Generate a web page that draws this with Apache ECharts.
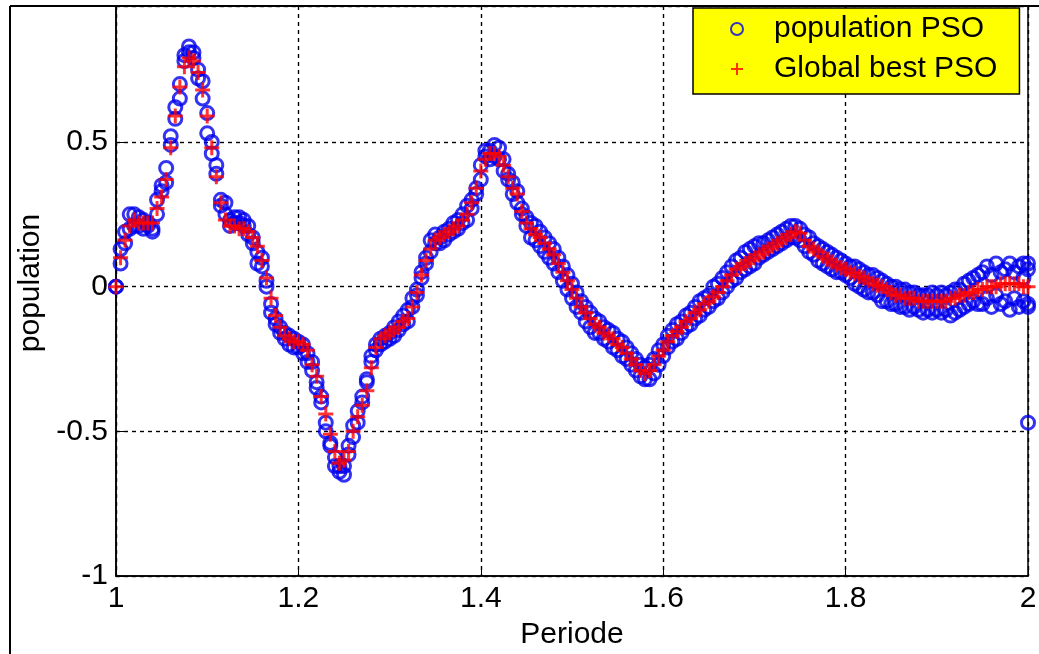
<!DOCTYPE html>
<html>
<head>
<meta charset="utf-8">
<script src="https://cdn.jsdelivr.net/npm/echarts@6/dist/echarts.min.js"></script>
<style>
  html, body { margin: 0; padding: 0; background: #fff; }
  #chart { width: 1039px; height: 654px; }
</style>
</head>
<body>
<div id="chart"></div>
<script>
// sampling of the Periode axis (one sample every 0.005)
const periodeStart = 1;
const periodeStep = 0.005;

// global best PSO estimate, one value per sample
const globalBest = [
  0.00, 0.10, 0.16, 0.21, 0.23, 0.22, 0.22, 0.22, 0.22, 0.27,
  0.31, 0.37, 0.48, 0.59, 0.69, 0.76, 0.79, 0.78, 0.74, 0.68,
  0.59, 0.48, 0.38, 0.29, 0.23, 0.21, 0.21, 0.20, 0.20, 0.19,
  0.17, 0.14, 0.09, 0.03, -0.04, -0.10, -0.14, -0.17, -0.18, -0.19,
  -0.19, -0.20, -0.22, -0.27, -0.31, -0.38, -0.44, -0.51, -0.57, -0.61,
  -0.60, -0.57, -0.50, -0.45, -0.41, -0.36, -0.28, -0.21, -0.18, -0.17,
  -0.16, -0.15, -0.14, -0.12, -0.11, -0.07, -0.02, 0.04, 0.09, 0.13,
  0.16, 0.17, 0.18, 0.19, 0.20, 0.21, 0.23, 0.25, 0.29, 0.34,
  0.40, 0.44, 0.46, 0.46, 0.45, 0.42, 0.38, 0.34, 0.32, 0.26,
  0.22, 0.20, 0.18, 0.17, 0.15, 0.13, 0.11, 0.08, 0.05, 0.02,
  -0.01, -0.04, -0.07, -0.09, -0.11, -0.13, -0.14, -0.16, -0.17, -0.18,
  -0.20, -0.21, -0.23, -0.25, -0.27, -0.29, -0.30, -0.29, -0.27, -0.24,
  -0.22, -0.19, -0.17, -0.155, -0.14, -0.12, -0.11, -0.09, -0.08, -0.06,
  -0.05, -0.035, -0.02, 0.00, 0.02, 0.04, 0.06, 0.07, 0.08, 0.09,
  0.10, 0.11, 0.12, 0.13, 0.14, 0.15, 0.16, 0.17, 0.18, 0.19,
  0.185, 0.16, 0.14, 0.13, 0.12, 0.105, 0.095, 0.085, 0.075, 0.065,
  0.06, 0.05, 0.045, 0.035, 0.03, 0.02, 0.01, 0.005, 0.00, -0.01,
  -0.02, -0.03, -0.03, -0.04, -0.04, -0.04, -0.05, -0.05, -0.05, -0.05,
  -0.05, -0.05, -0.05, -0.04, -0.04, -0.03, -0.03, -0.02, -0.02, -0.01,
  -0.01, 0.00, 0.00, 0.00, 0.01, 0.01, 0.01, 0.01, 0.01, 0.00,
  0.00
];

// population particles (two per sample, upper / lower side of the swarm)
const populationUpper = [
  0.00, 0.13, 0.19, 0.25, 0.25, 0.24, 0.23, 0.22, 0.20, 0.30,
  0.35, 0.41, 0.52, 0.62, 0.65, 0.80, 0.83, 0.81, 0.72, 0.71,
  0.53, 0.46, 0.39, 0.30, 0.25, 0.23, 0.24, 0.24, 0.23, 0.21,
  0.17, 0.12, 0.07, 0.00, -0.06, -0.11, -0.14, -0.16, -0.17, -0.18,
  -0.19, -0.20, -0.23, -0.26, -0.33, -0.40, -0.47, -0.54, -0.59, -0.64,
  -0.65, -0.58, -0.52, -0.47, -0.40, -0.33, -0.24, -0.20, -0.18, -0.17,
  -0.16, -0.14, -0.12, -0.10, -0.08, -0.04, -0.01, 0.05, 0.10, 0.16,
  0.18, 0.17, 0.19, 0.20, 0.22, 0.23, 0.25, 0.28, 0.30, 0.32,
  0.42, 0.47, 0.47, 0.49, 0.48, 0.44, 0.39, 0.36, 0.33, 0.27,
  0.24, 0.22, 0.21, 0.19, 0.17, 0.15, 0.13, 0.10, 0.07, 0.04,
  0.01, -0.02, -0.05, -0.07, -0.09, -0.11, -0.12, -0.14, -0.15, -0.16,
  -0.18, -0.19, -0.21, -0.23, -0.25, -0.27, -0.28, -0.27, -0.25, -0.22,
  -0.20, -0.17, -0.15, -0.13, -0.12, -0.10, -0.09, -0.07, -0.05, -0.04,
  -0.03, 0.00, 0.01, 0.03, 0.05, 0.07, 0.09, 0.10, 0.12, 0.13,
  0.14, 0.15, 0.15, 0.16, 0.17, 0.18, 0.19, 0.20, 0.21, 0.21,
  0.20, 0.18, 0.17, 0.15, 0.14, 0.13, 0.12, 0.11, 0.10, 0.09,
  0.08, 0.07, 0.07, 0.06, 0.05, 0.04, 0.04, 0.03, 0.02, 0.01,
  0.00, 0.00, -0.01, -0.01, -0.02, -0.02, -0.03, -0.03, -0.03, -0.02,
  -0.03, -0.02, -0.03, -0.02, -0.01, -0.01, 0.01, 0.02, 0.03, 0.04,
  0.05, 0.07, 0.04, 0.08, 0.05, 0.06, 0.08, 0.05, 0.07, 0.08,
  0.06
];

const populationLower = [
  0.00, 0.08, 0.15, 0.20, 0.21, 0.21, 0.20, 0.21, 0.19, 0.25,
  0.33, 0.36, 0.49, 0.58, 0.70, 0.78, 0.81, 0.79, 0.75, 0.65,
  0.60, 0.50, 0.42, 0.28, 0.29, 0.21, 0.22, 0.22, 0.21, 0.18,
  0.15, 0.08, 0.10, 0.02, -0.09, -0.13, -0.16, -0.18, -0.20, -0.21,
  -0.21, -0.23, -0.26, -0.29, -0.35, -0.38, -0.50, -0.55, -0.62, -0.62,
  -0.62, -0.55, -0.48, -0.43, -0.38, -0.32, -0.26, -0.22, -0.20, -0.19,
  -0.18, -0.17, -0.15, -0.13, -0.12, -0.07, -0.03, 0.03, 0.08, 0.12,
  0.15, 0.15, 0.16, 0.18, 0.19, 0.20, 0.22, 0.23, 0.27, 0.34,
  0.37, 0.45, 0.44, 0.45, 0.44, 0.40, 0.37, 0.32, 0.29, 0.25,
  0.21, 0.17, 0.16, 0.14, 0.12, 0.10, 0.08, 0.05, 0.02, -0.01,
  -0.04, -0.07, -0.09, -0.12, -0.14, -0.16, -0.16, -0.18, -0.19, -0.21,
  -0.22, -0.24, -0.25, -0.27, -0.29, -0.31, -0.32, -0.32, -0.30, -0.27,
  -0.24, -0.21, -0.19, -0.18, -0.16, -0.14, -0.13, -0.11, -0.10, -0.08,
  -0.07, -0.05, -0.04, -0.02, 0.00, 0.02, 0.03, 0.05, 0.06, 0.07,
  0.08, 0.10, 0.11, 0.12, 0.13, 0.14, 0.15, 0.16, 0.17, 0.17,
  0.16, 0.14, 0.12, 0.11, 0.09, 0.08, 0.07, 0.06, 0.05, 0.05,
  0.04, 0.03, 0.01, 0.00, -0.01, -0.02, -0.02, -0.03, -0.05, -0.05,
  -0.06, -0.06, -0.07, -0.07, -0.08, -0.07, -0.08, -0.09, -0.08, -0.09,
  -0.08, -0.09, -0.08, -0.10, -0.09, -0.08, -0.07, -0.06, -0.05, -0.06,
  -0.06, -0.04, -0.07, -0.03, -0.06, -0.05, -0.08, -0.04, -0.07, -0.05,
  -0.06
];

// stray particles at the last period
const populationStray = [[2.0, -0.47], [2.0, 0.08], [2.0, -0.07], [1.995, 0.03]];

const fontFamily = '"Liberation Sans", Arial, sans-serif';

function toPairs(values) {
  return values.map(function (v, i) {
    return [+(periodeStart + i * periodeStep).toFixed(3), v];
  });
}

const populationData = toPairs(populationUpper).concat(toPairs(populationLower), populationStray);
const bestData = toPairs(globalBest);

const plusSymbol = 'path://M5,0L5,10M0,5L10,5';

var myChart = echarts.init(document.getElementById('chart'));
var option = {
  animation: false,
  backgroundColor: '#fff',
  textStyle: { fontFamily: fontFamily },
  grid: {
    left: 116, right: 11, top: 6, bottom: 78,
    show: true, borderColor: '#000', borderWidth: 1.5,
    outerBoundsMode: 'none'
  },
  legend: {
    orient: 'vertical',
    left: 693, top: 8,
    backgroundColor: '#ffff00',
    borderColor: '#000', borderWidth: 1.5, borderRadius: 0,
    padding: [6, 22, 10, 37],
    itemWidth: 12, itemHeight: 12, itemGap: 10,
    textStyle: { fontSize: 30, color: '#000', fontFamily: fontFamily, padding: [0, 0, 0, 26] },
    data: ['population PSO', 'Global best PSO']
  },
  xAxis: {
    type: 'value', min: 1, max: 2, interval: 0.2,
    name: 'Periode', nameLocation: 'middle', nameGap: 44,
    nameTextStyle: { fontSize: 30, color: '#000', fontFamily: fontFamily },
    axisLine: { show: true, onZero: false, lineStyle: { color: '#000', width: 1.5 } },
    axisTick: { show: true, inside: true, length: 8, lineStyle: { color: '#000' } },
    axisLabel: {
      fontSize: 30, color: '#000', margin: 8,
      formatter: function (v) { return String(+v.toFixed(1)); }
    },
    splitLine: { show: true, lineStyle: { color: '#000', type: [4, 4], width: 1.4 } }
  },
  yAxis: {
    type: 'value', min: -1, max: 0.97, interval: 0.5,
    name: 'population', nameLocation: 'middle', nameGap: 70,
    nameTextStyle: { fontSize: 30, color: '#000', fontFamily: fontFamily, padding: [0, 0, 0, 16] },
    axisLine: { show: true, onZero: false, lineStyle: { color: '#000', width: 1.5 } },
    axisTick: { show: true, inside: true, length: 8, lineStyle: { color: '#000' } },
    axisLabel: {
      fontSize: 30, color: '#000', margin: 8, showMaxLabel: false,
      formatter: function (v) { return String(+v.toFixed(1)); }
    },
    splitLine: { show: true, lineStyle: { color: '#000', type: [4, 4], width: 1.4 } }
  },
  graphic: [
    { type: 'line', shape: { x1: 10, y1: 6, x2: 1039, y2: 6 }, style: { stroke: '#000', lineWidth: 2 }, z: 100 },
    { type: 'line', shape: { x1: 10, y1: 6, x2: 10, y2: 654 }, style: { stroke: '#000', lineWidth: 2 }, z: 100 }
  ],
  series: [
    {
      name: 'population PSO',
      type: 'scatter',
      symbol: 'circle',
      symbolSize: 13,
      itemStyle: { color: 'rgba(0,0,0,0)', borderColor: '#0000ee', borderWidth: 3 },
      emphasis: { disabled: true },
      data: populationData,
      z: 2
    },
    {
      name: 'Global best PSO',
      type: 'scatter',
      symbol: plusSymbol,
      symbolSize: 15,
      itemStyle: { color: '#ff0000', borderColor: '#ff0000', borderWidth: 3 },
      emphasis: { disabled: true },
      data: bestData,
      z: 3
    }
  ]
};
myChart.setOption(option);
</script>
</body>
</html>
